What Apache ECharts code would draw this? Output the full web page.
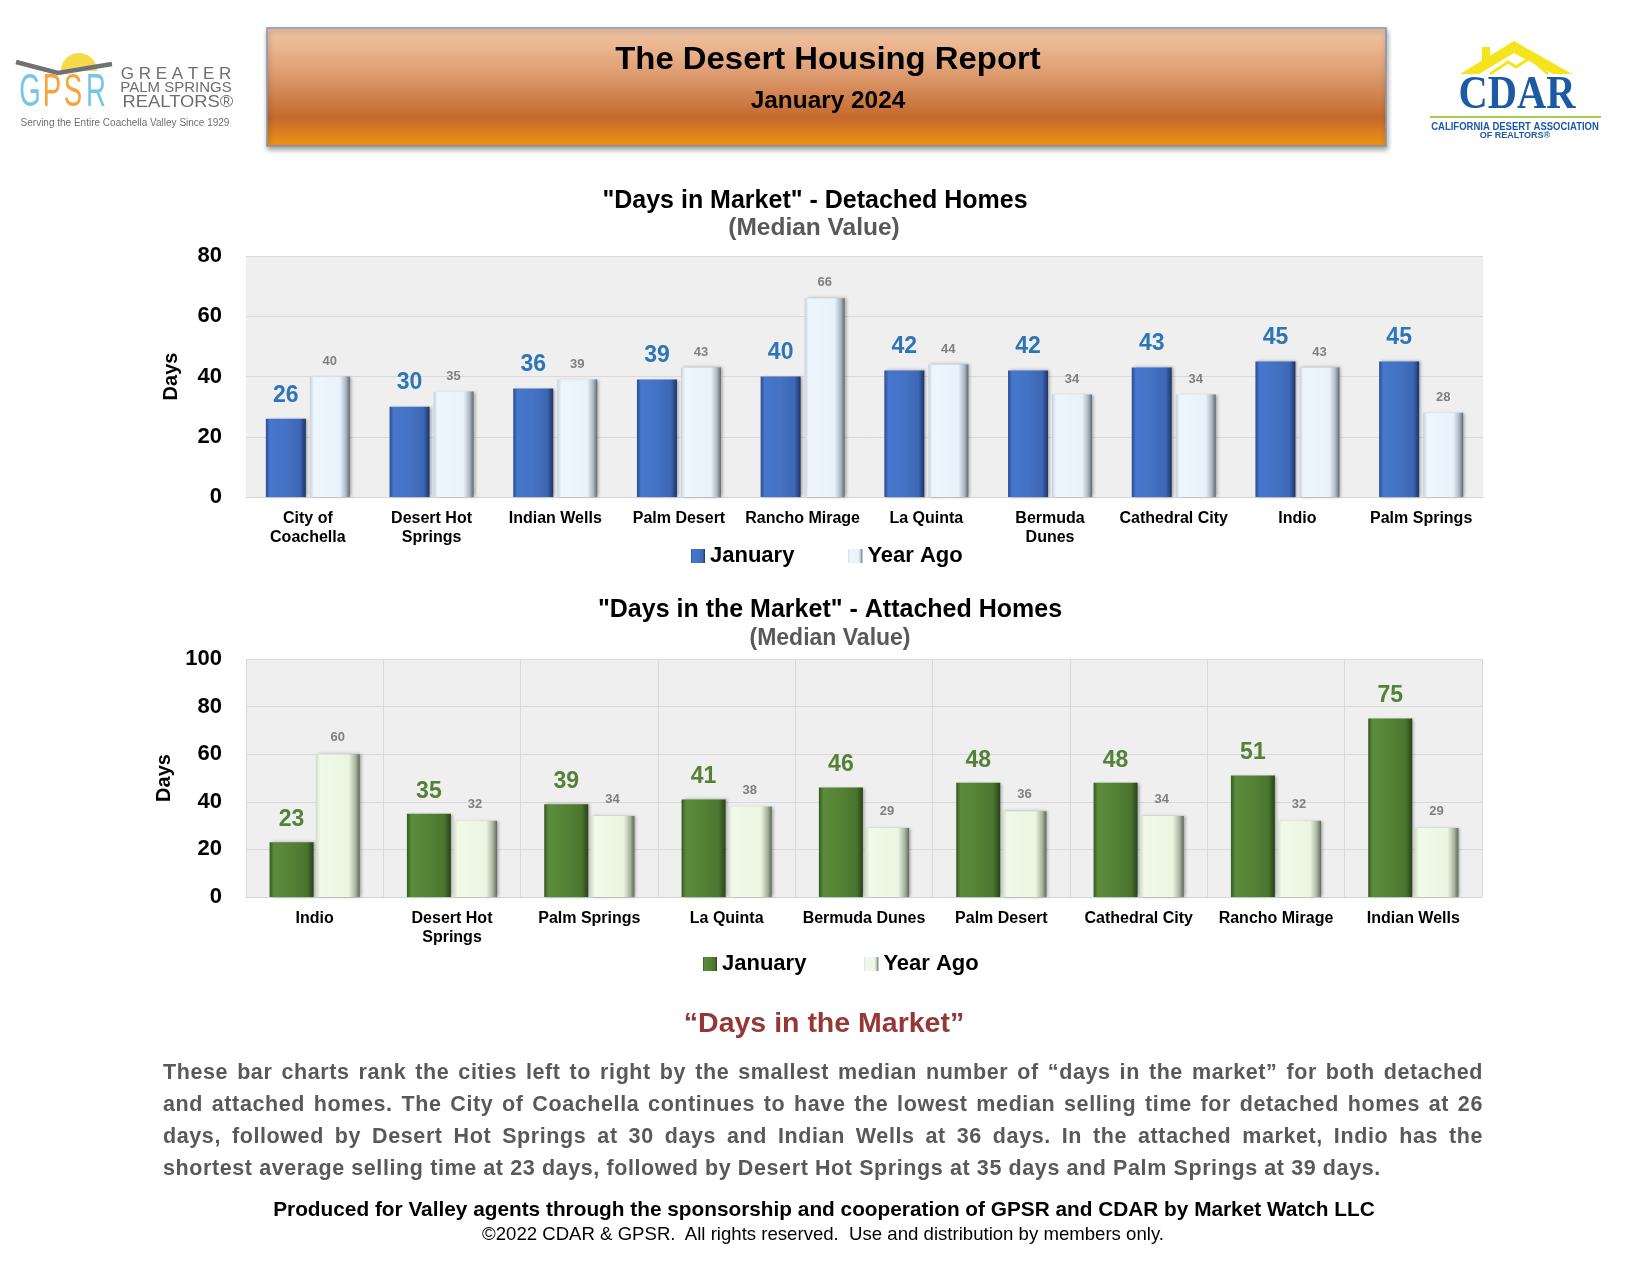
<!DOCTYPE html>
<html>
<head>
<meta charset="utf-8">
<script src="https://cdn.jsdelivr.net/npm/echarts@6/dist/echarts.min.js"></script>
<style>
html,body{margin:0;padding:0;background:#fff;}
#wrap{position:relative;width:1650px;height:1275px;overflow:hidden;background:#fff;}
#chart{position:absolute;left:0;top:0;width:1650px;height:1275px;}
.txt{position:absolute;font-family:"Liberation Sans",Arial,sans-serif;}
.pl{width:1320px;text-align:justify;text-align-last:justify;height:32px;overflow:hidden;}
.pl.last{text-align:left;text-align-last:left;}
</style>
</head>
<body>
<div id="wrap">
<div id="chart"></div>
<div class="txt" id="para" style="left:163px;top:1056px;width:1320px;font-size:21.5px;letter-spacing:0.6px;font-weight:bold;color:#595959;line-height:32px;">
<div class="pl">These bar charts rank the cities left to right by the smallest median number of “days in the market” for both detached</div>
<div class="pl">and attached homes. The City of Coachella continues to have the lowest median selling time for detached homes at 26</div>
<div class="pl">days, followed by Desert Hot Springs at 30 days and Indian Wells at 36 days. In the attached market, Indio has the</div>
<div class="pl last">shortest average selling time at 23 days, followed by Desert Hot Springs at 35 days and Palm Springs at 39 days.</div>
</div>
<div class="txt" style="left:0;width:1648px;top:1196px;text-align:center;font-size:20.8px;font-weight:bold;color:#000;line-height:26px;">Produced for Valley agents through the sponsorship and cooperation of GPSR and CDAR by Market Watch LLC</div>
<div class="txt" style="left:0;width:1646px;top:1222px;text-align:center;font-size:18.6px;color:#000;line-height:24px;">©2022 CDAR &amp; GPSR.&nbsp; All rights reserved.&nbsp; Use and distribution by members only.</div>
</div>
<script>
// ---- Data ----
var detachedCities = ['City of\nCoachella', 'Desert Hot\nSprings', 'Indian Wells', 'Palm Desert', 'Rancho Mirage', 'La Quinta', 'Bermuda\nDunes', 'Cathedral City', 'Indio', 'Palm Springs'];
var detachedJanuary = [26, 30, 36, 39, 40, 42, 42, 43, 45, 45];
var detachedYearAgo = [40, 35, 39, 43, 66, 44, 34, 34, 43, 28];

var attachedCities = ['Indio', 'Desert Hot\nSprings', 'Palm Springs', 'La Quinta', 'Bermuda Dunes', 'Palm Desert', 'Cathedral City', 'Rancho Mirage', 'Indian Wells'];
var attachedJanuary = [23, 35, 39, 41, 46, 48, 48, 51, 75];
var attachedYearAgo = [60, 32, 34, 38, 29, 36, 34, 32, 29];

var detachedTicks = {min: 0, max: 80, interval: 20};
var attachedTicks = {min: 0, max: 100, interval: 20};

// ---- Chart ----
var FF = '"Liberation Sans", Arial, sans-serif';
var chart = echarts.init(document.getElementById('chart'), null, {renderer: 'canvas'});
var LG = echarts.graphic.LinearGradient;

function hgrad(stops) { return new LG(0, 0, 1, 0, stops.map(function (s) { return {offset: s[0], color: s[1]}; })); }

var blueFill = hgrad([[0, '#2a4c92'], [0.1, '#4677cc'], [0.5, '#4472c4'], [0.85, '#3d67b5'], [1, '#1c3468']]);
var paleBlueFill = hgrad([[0, '#c4d0dd'], [0.1, '#eef6fd'], [0.75, '#e8f2fb'], [0.9, '#aeb8c3'], [1, '#5f6972']]);
var greenFill = hgrad([[0, '#35581f'], [0.1, '#5b8c3b'], [0.5, '#548235'], [0.85, '#4a752e'], [1, '#27421a']]);
var paleGreenFill = hgrad([[0, '#cfd9c4'], [0.1, '#f1f9e9'], [0.75, '#ebf5e1'], [0.9, '#abb6a2'], [1, '#5f685a']]);

var barShadow = {shadowColor: 'rgba(0,0,0,0.3)', shadowBlur: 3, shadowOffsetX: 2, shadowOffsetY: 0};

function catAxis(grid, data, split) {
  return {
    type: 'category', gridIndex: grid, data: data,
    axisLine: {show: true, lineStyle: {color: '#d4d4d4', width: 1}},
    axisTick: {show: false},
    splitLine: {show: split, interval: 0, lineStyle: {color: '#d9d9d9'}},
    axisLabel: {interval: 0, margin: 12, color: '#000', fontFamily: FF, fontWeight: 'bold', fontSize: 16, lineHeight: 19}
  };
}
function valAxis(grid, t) {
  return {
    type: 'value', gridIndex: grid, min: t.min, max: t.max, interval: t.interval,
    name: 'Days', nameLocation: 'middle', nameRotate: 90, nameGap: 65,
    nameTextStyle: {color: '#000', fontFamily: FF, fontWeight: 'bold', fontSize: 20},
    axisLine: {show: false}, axisTick: {show: false},
    splitLine: {show: true, lineStyle: {color: '#d9d9d9', width: 1}},
    axisLabel: {margin: 24, color: '#000', fontFamily: FF, fontWeight: 'bold', fontSize: 22}
  };
}
function bigLabel(color, dist) {
  return {show: true, position: 'top', distance: dist, color: color, fontFamily: FF, fontWeight: 'bold', fontSize: 23};
}
function smallLabel(dist) {
  return {show: true, position: 'top', distance: dist, color: '#7f7f7f', fontFamily: FF, fontWeight: 'bold', fontSize: 13};
}
function txt(x, y, text, font, fill, extra) {
  var o = {type: 'text', x: x, y: y, style: {text: text, font: font, fill: fill, textAlign: 'center', textVerticalAlign: 'middle', align: 'center', verticalAlign: 'middle'}};
  if (extra) { for (var k in extra) o[k] = extra[k]; }
  return o;
}

var graphics = [
  // header banner
  {type: 'rect', shape: {x: 267, y: 28, width: 1119, height: 118},
    style: {fill: new LG(0, 0, 0, 1, [
      {offset: 0, color: '#f3c7a7'}, {offset: 0.35, color: '#e0a176'}, {offset: 0.62, color: '#cd7c45'},
      {offset: 0.76, color: '#c5692f'}, {offset: 0.88, color: '#dc7f1e'}, {offset: 1, color: '#f29410'}]),
      stroke: '#7f97b6', lineWidth: 1.5, shadowBlur: 5, shadowOffsetY: 3, shadowOffsetX: 1, shadowColor: 'rgba(0,0,0,0.35)'}},
  txt(828, 60, 'The Desert Housing Report', 'bold 31px ' + FF, '#000', {scaleX: 1.06}),
  txt(828, 102, 'January 2024', 'bold 23px ' + FF, '#000', {scaleX: 1.06}),

  // GPSR logo
  {type: 'sector', shape: {cx: 79, cy: 71, r: 18, startAngle: Math.PI, endAngle: 2 * Math.PI}, style: {fill: '#f7d94c'}},
  {type: 'polyline', shape: {points: [[16, 62], [58, 73], [112, 64]]}, style: {stroke: '#707173', lineWidth: 4.5, fill: null}},
  txt(30, 93, 'G', '46px ' + FF, '#72c6e6', {scaleX: 0.6}),
  txt(52, 93, 'P', '46px ' + FF, '#f5a33a', {scaleX: 0.6}),
  txt(73, 93, 'S', '46px ' + FF, '#f5a33a', {scaleX: 0.6}),
  txt(96, 93, 'R', '46px ' + FF, '#72c6e6', {scaleX: 0.6}),
  txt(176, 74, 'G R E A T E R', '17px ' + FF, '#6d6e71'),
  txt(176, 88, 'PALM SPRINGS', '15px ' + FF, '#6d6e71'),
  txt(178, 102, 'REALTORS®', '17px ' + FF, '#6d6e71', {scaleX: 1.08}),
  txt(125, 123, 'Serving the Entire Coachella Valley Since 1929', '10px ' + FF, '#6d6e71'),

  // CDAR logo
  {type: 'polygon', shape: {points: [[1460, 74], [1514, 41], [1572, 74], [1553, 74], [1514, 53], [1479, 74]]}, style: {fill: '#f5e31c'}},
  {type: 'rect', shape: {x: 1482, y: 47, width: 8, height: 15}, style: {fill: '#f5e31c'}},
  {type: 'polyline', shape: {points: [[1490, 74], [1508, 62], [1516, 67], [1530, 58], [1548, 74]]}, style: {stroke: '#f5e31c', lineWidth: 3, fill: null}},
  txt(1517, 96, 'CDAR', 'bold 46px "Liberation Serif", serif', '#1c5aa6', {scaleX: 0.88}),
  {type: 'line', shape: {x1: 1430, y1: 117, x2: 1601, y2: 117}, style: {stroke: '#a9cc4a', lineWidth: 2}},
  txt(1515, 127, 'CALIFORNIA DESERT ASSOCIATION', 'bold 10px ' + FF, '#1c5aa6', {scaleX: 0.95}),
  txt(1515, 136, 'OF REALTORS®', 'bold 9px ' + FF, '#1c5aa6'),

  // chart titles
  txt(815, 201, '"Days in Market" - Detached Homes', 'bold 25px ' + FF, '#000'),
  txt(814, 228, '(Median Value)', 'bold 24.5px ' + FF, '#595959'),
  txt(830, 610, '"Days in the Market" - Attached Homes', 'bold 25px ' + FF, '#000'),
  txt(830, 639, '(Median Value)', 'bold 23px ' + FF, '#595959'),

  // section heading
  txt(824, 1024, '“Days in the Market”', 'bold 28.5px ' + FF, '#953735')
];

var option = {
  backgroundColor: '#fff',
  animation: false,
  textStyle: {fontFamily: FF},
  graphic: {elements: graphics},
  legend: [
    {left: 686, top: 540, itemWidth: 14, itemHeight: 14, itemGap: 54, icon: 'rect', selectedMode: false,
      data: ['January (Detached)', 'Year Ago (Detached)'],
      formatter: function (n) { return n.split(' (')[0]; },
      textStyle: {fontSize: 22, fontWeight: 'bold', color: '#000', fontFamily: FF}},
    {left: 698, top: 948, itemWidth: 14, itemHeight: 14, itemGap: 58, icon: 'rect', selectedMode: false,
      data: ['January (Attached)', 'Year Ago (Attached)'],
      formatter: function (n) { return n.split(' (')[0]; },
      textStyle: {fontSize: 22, fontWeight: 'bold', color: '#000', fontFamily: FF}}
  ],
  grid: [
    {left: 246, top: 256, width: 1237, height: 241, show: true, backgroundColor: '#efefef', borderWidth: 0},
    {left: 246, top: 659, width: 1236, height: 238, show: true, backgroundColor: '#efefef', borderWidth: 0}
  ],
  xAxis: [catAxis(0, detachedCities, false), catAxis(1, attachedCities, true)],
  yAxis: [valAxis(0, detachedTicks), valAxis(1, attachedTicks)],
  series: [
    {name: 'January (Detached)', type: 'bar', xAxisIndex: 0, yAxisIndex: 0, data: detachedJanuary,
      barWidth: 40, barGap: '10%', itemStyle: Object.assign({color: blueFill}, barShadow), label: bigLabel('#2e75b6', 12)},
    {name: 'Year Ago (Detached)', type: 'bar', xAxisIndex: 0, yAxisIndex: 0, data: detachedYearAgo,
      barWidth: 40, barGap: '10%', itemStyle: Object.assign({color: paleBlueFill}, barShadow), label: smallLabel(9)},
    {name: 'January (Attached)', type: 'bar', xAxisIndex: 1, yAxisIndex: 1, data: attachedJanuary,
      barWidth: 44, barGap: '5%', itemStyle: Object.assign({color: greenFill}, barShadow), label: bigLabel('#538135', 11)},
    {name: 'Year Ago (Attached)', type: 'bar', xAxisIndex: 1, yAxisIndex: 1, data: attachedYearAgo,
      barWidth: 44, barGap: '5%', itemStyle: Object.assign({color: paleGreenFill}, barShadow), label: smallLabel(10)}
  ]
};
chart.setOption(option);
</script>
</body>
</html>
